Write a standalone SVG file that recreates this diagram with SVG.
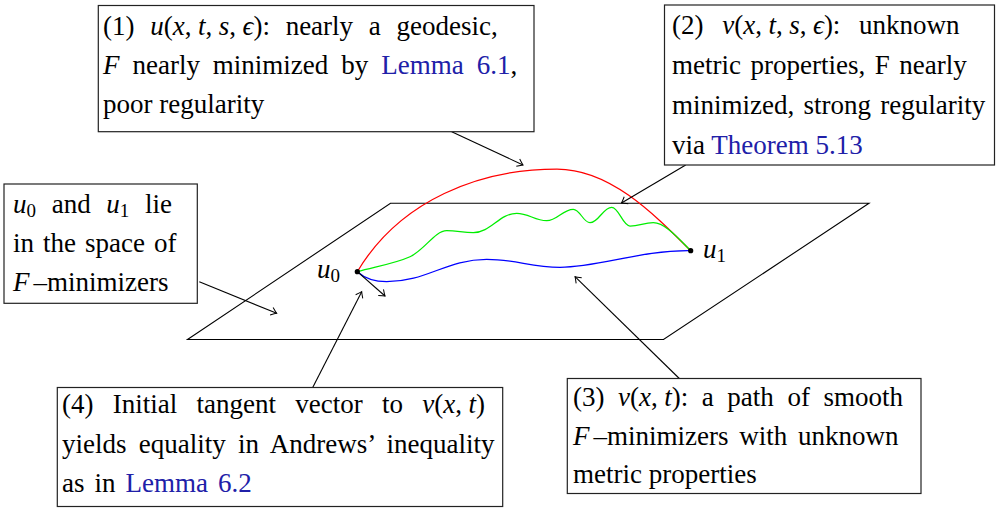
<svg xmlns="http://www.w3.org/2000/svg" width="999" height="508" viewBox="0 0 999 508">
<style>
text{font-family:"Liberation Serif","Times New Roman",serif;font-size:27px;fill:#000}
.m{font-style:italic}
.l{fill:#2020a8}
.box{fill:#fff;stroke:#222;stroke-width:1.2}
.ln{fill:none;stroke:#000;stroke-width:1.1}
.c{fill:none;stroke-width:1.25}
</style>
<defs>
<marker id="ah" viewBox="-7 -6 9 12" markerWidth="9" markerHeight="12" refX="0" refY="0" orient="auto" markerUnits="userSpaceOnUse">
<path d="M-5.5,-4 Q-1.6,-0.9 0,0 Q-1.6,0.9 -5.5,4" fill="none" stroke="#000" stroke-width="1"/>
</marker>
</defs>
<rect width="999" height="508" fill="#fff"/>
<g id="plane">
<path class="ln" d="M390.5,203.3 L869,203.3 L663.5,339.5 L187.5,339.5 Z"/>
</g>
<g id="curves">
<path class="c" stroke="#ff0000" d="M357.3,271.7 C400,200 480,169 557,169 C610,169 654,214 690.7,250.7"/>
<path class="c" stroke="#00ee00" d="M357.3,271.7 C374.9,266.7 395.1,263.5 410,256.7 C424.9,249.9 434.7,230.7 446.7,230.7 C457.3,230.7 462.7,232.7 473.3,232.7 C490.7,232.7 499.3,213.3 516.7,213.3 C528.7,213.3 534.7,220.7 546.7,220.7 C557.3,220.7 562.7,209.3 573.3,209.3 C580,209.3 583.3,222.7 590,222.7 C598.7,222.7 603,207.3 611.7,207.3 C619,207.3 622.7,226 630,226 C639.3,226 644,222.7 653.3,222.7 C665,222.7 678.7,238.7 690.7,250.7"/>
<path class="c" stroke="#0000ff" d="M357.3,271.7 C365.3,278.7 376,281.7 386.7,281.7 C426.7,281.7 446.7,259.3 486.7,259.3 C516,259.3 530.7,267.3 560,267.3 C600,267.3 640,250 690.7,250.7"/>
</g>
<g id="u0">
<circle cx="357.3" cy="271.7" r="2.6" fill="#000"/>
<text x="317" y="278"><tspan class="m">u</tspan><tspan font-size="19" dy="4">0</tspan></text>
</g>
<g id="u1">
<circle cx="690.7" cy="250.7" r="2.6" fill="#000"/>
<text x="703" y="258"><tspan class="m">u</tspan><tspan font-size="19" dy="4">1</tspan></text>
</g>
<g id="connectors">
<line class="ln" x1="357.3" y1="271.7" x2="385" y2="296" marker-end="url(#ah)"/>
<line class="ln" x1="451.7" y1="131.7" x2="523" y2="165" marker-end="url(#ah)"/>
<line class="ln" x1="685.7" y1="165" x2="621.5" y2="203" marker-end="url(#ah)"/>
<line class="ln" x1="199.3" y1="281.7" x2="276.7" y2="313.3" marker-end="url(#ah)"/>
<line class="ln" x1="312.7" y1="387.5" x2="361.7" y2="291.7" marker-end="url(#ah)"/>
<line class="ln" x1="679.3" y1="378.5" x2="575" y2="276.7" marker-end="url(#ah)"/>
</g>
<g id="box1">
<rect class="box" x="98.3" y="5.5" width="435.7" height="126.2"/>
<text x="103" y="35" style="word-spacing:9px">(1) <tspan class="m">u</tspan>(<tspan class="m">x</tspan>,<tspan dx="6.5" class="m">t</tspan>,<tspan dx="6.5" class="m">s</tspan>,<tspan dx="6.5" class="m">ϵ</tspan>): nearly a geodesic,</text>
<text x="103" y="74" style="word-spacing:6.2px"><tspan class="m">F</tspan> nearly minimized by <tspan class="l">Lemma 6.1</tspan>,</text>
<text x="103" y="113">poor regularity</text>
</g>
<g id="box2">
<rect class="box" x="664.5" y="5" width="330" height="160"/>
<text x="672" y="34" style="word-spacing:12px">(2) <tspan class="m">v</tspan>(<tspan class="m">x</tspan>,<tspan dx="6.5" class="m">t</tspan>,<tspan dx="6.5" class="m">s</tspan>,<tspan dx="6.5" class="m">ϵ</tspan>): unknown</text>
<text x="672" y="74" style="word-spacing:2.8px">metric properties, F nearly</text>
<text x="672" y="114" style="word-spacing:2.5px">minimized, strong regularity</text>
<text x="672" y="154">via <tspan class="l">Theorem 5.13</tspan></text>
</g>
<g id="box0">
<rect class="box" x="4" y="184" width="193.3" height="119.3"/>
<text x="13" y="212.5" style="word-spacing:8.9px"><tspan class="m">u</tspan><tspan font-size="19" dy="4">0</tspan><tspan dy="-4"> and </tspan><tspan class="m">u</tspan><tspan font-size="19" dy="4">1</tspan><tspan dy="-4"> lie</tspan></text>
<text x="13" y="252" style="word-spacing:2.3px">in the space of</text>
<text x="13" y="290.5"><tspan class="m">F</tspan><tspan dx="4">–minimizers</tspan></text>
</g>
<g id="box4">
<rect class="box" x="57.3" y="387.5" width="445.4" height="119"/>
<text x="62" y="413.3" style="word-spacing:12.5px">(4) Initial tangent vector to <tspan class="m">v</tspan>(<tspan class="m">x</tspan>,<tspan dx="6.5" class="m">t</tspan>)</text>
<text x="62" y="452.7" style="word-spacing:5.5px">yields equality in Andrews’ inequality</text>
<text x="62" y="491.7" style="word-spacing:3.3px">as in <tspan class="l">Lemma 6.2</tspan></text>
</g>
<g id="box3">
<rect class="box" x="567.3" y="378.5" width="353.7" height="115"/>
<text x="573" y="406" style="word-spacing:6.8px">(3) <tspan class="m">v</tspan>(<tspan class="m">x</tspan>,<tspan dx="6.5" class="m">t</tspan>): a path of smooth</text>
<text x="573" y="445" style="word-spacing:4px"><tspan class="m">F</tspan><tspan dx="4">–minimizers with unknown</tspan></text>
<text x="573" y="483.3">metric properties</text>
</g>
</svg>
